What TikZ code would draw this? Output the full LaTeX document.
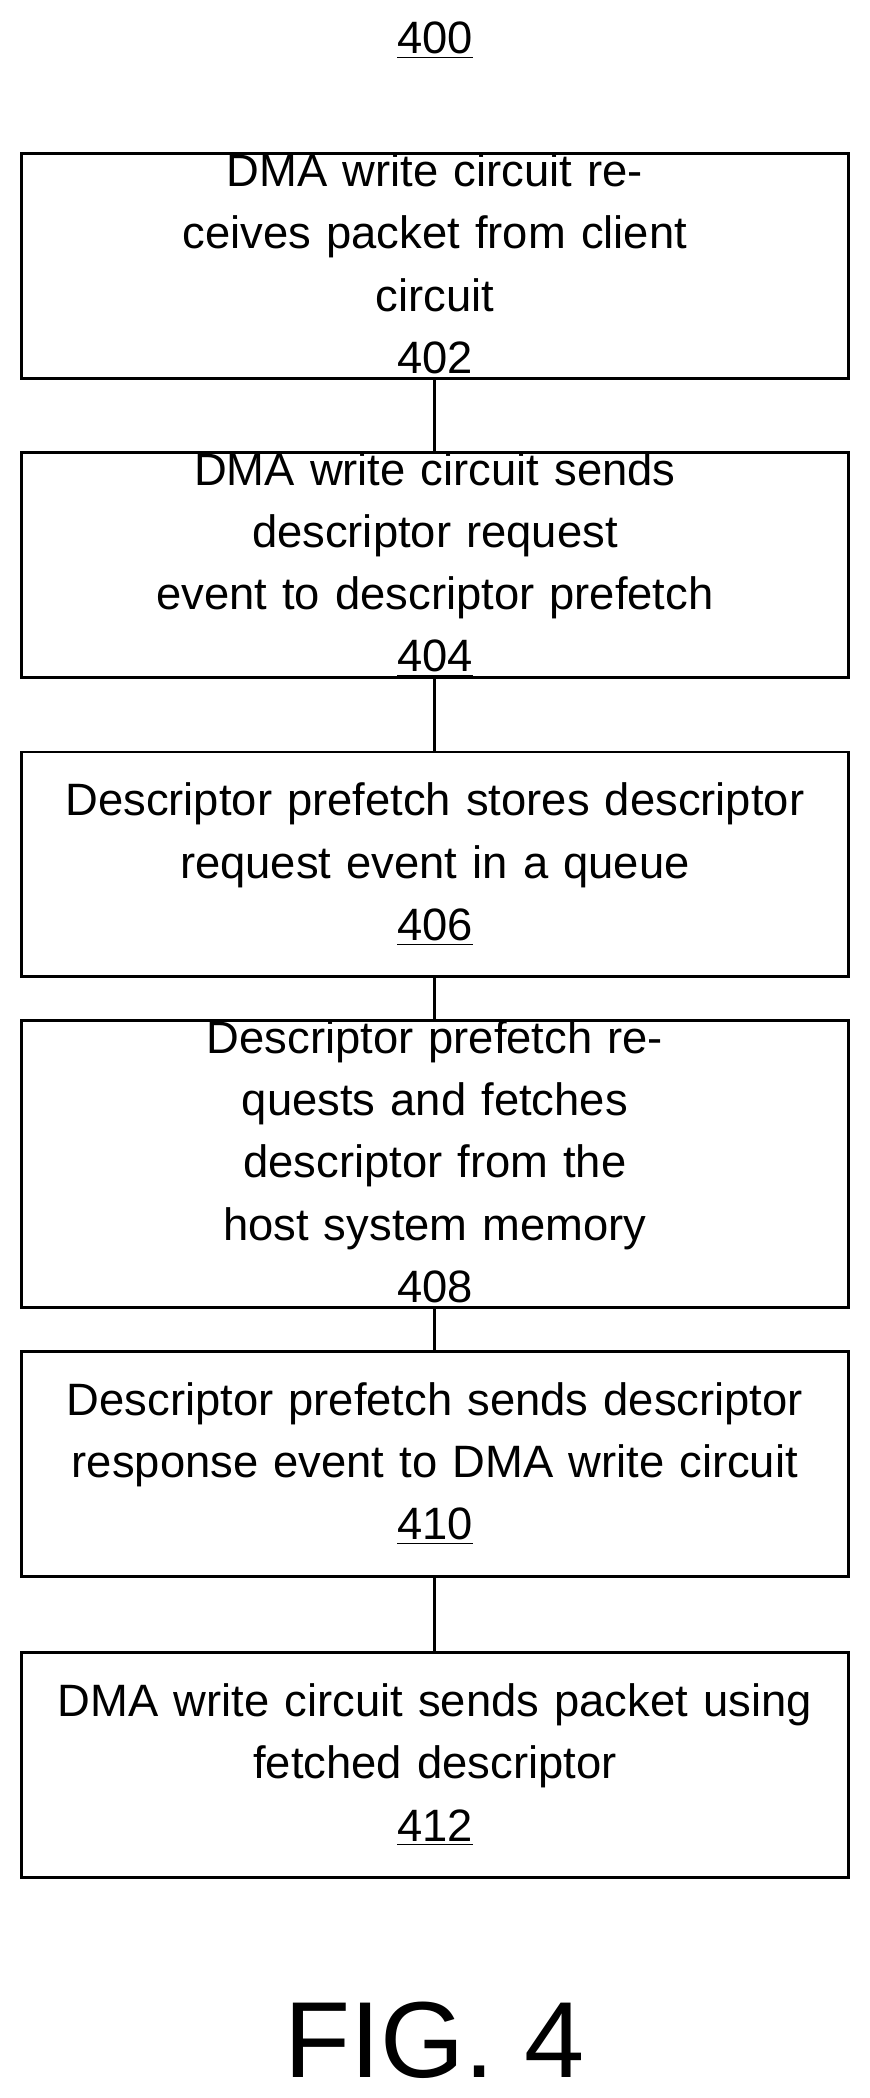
\documentclass[tikz,border=0pt]{standalone}
\usepackage{fontspec}
\setmainfont{Liberation Sans}
\usetikzlibrary{positioning}
\begin{document}
\begin{tikzpicture}[x=0.02cm,y=-0.02cm,
  flowbox/.style={draw,line width=1.2pt,text width=12.2cm,minimum width=12.36cm,minimum height=3.36cm,
    align=center,font=\fontsize{19.3}{26.5}\selectfont,inner xsep=0.08cm,inner ysep=0pt},
  link/.style={line width=1.2pt}]
  \useasboundingbox (0,0) rectangle (650,1568);
  \node[font=\fontsize{19.3}{24}\selectfont] (title) at (325,30) {\underline{400}};
  \node[flowbox] (s402) at (325,199) {DMA write circuit receives packet from client\\circuit\\\underline{402}};
  \node[flowbox] (s404) at (325,422) {DMA write circuit sends descriptor request\\event to descriptor prefetch\\\underline{404}};
  \node[flowbox] (s406) at (325,646) {Descriptor prefetch stores descriptor\\request event in a queue\\\underline{406}};
  \node[flowbox] (s408) at (325,870) {Descriptor prefetch requests and fetches\\descriptor from the host system memory\\\underline{408}};
  \node[flowbox] (s410) at (325,1094) {Descriptor prefetch sends descriptor\\response event to DMA write circuit\\\underline{410}};
  \node[flowbox] (s412) at (325,1319) {DMA write circuit sends packet using\\fetched descriptor\\\underline{412}};
  \foreach \a/\b in {s402/s404,s404/s406,s406/s408,s408/s410,s410/s412}
    \draw[link] (\a) -- (\b);
  \node[font=\fontsize{46}{50}\selectfont] (fig) at (325,1525) {FIG. 4};
\end{tikzpicture}
\end{document}
